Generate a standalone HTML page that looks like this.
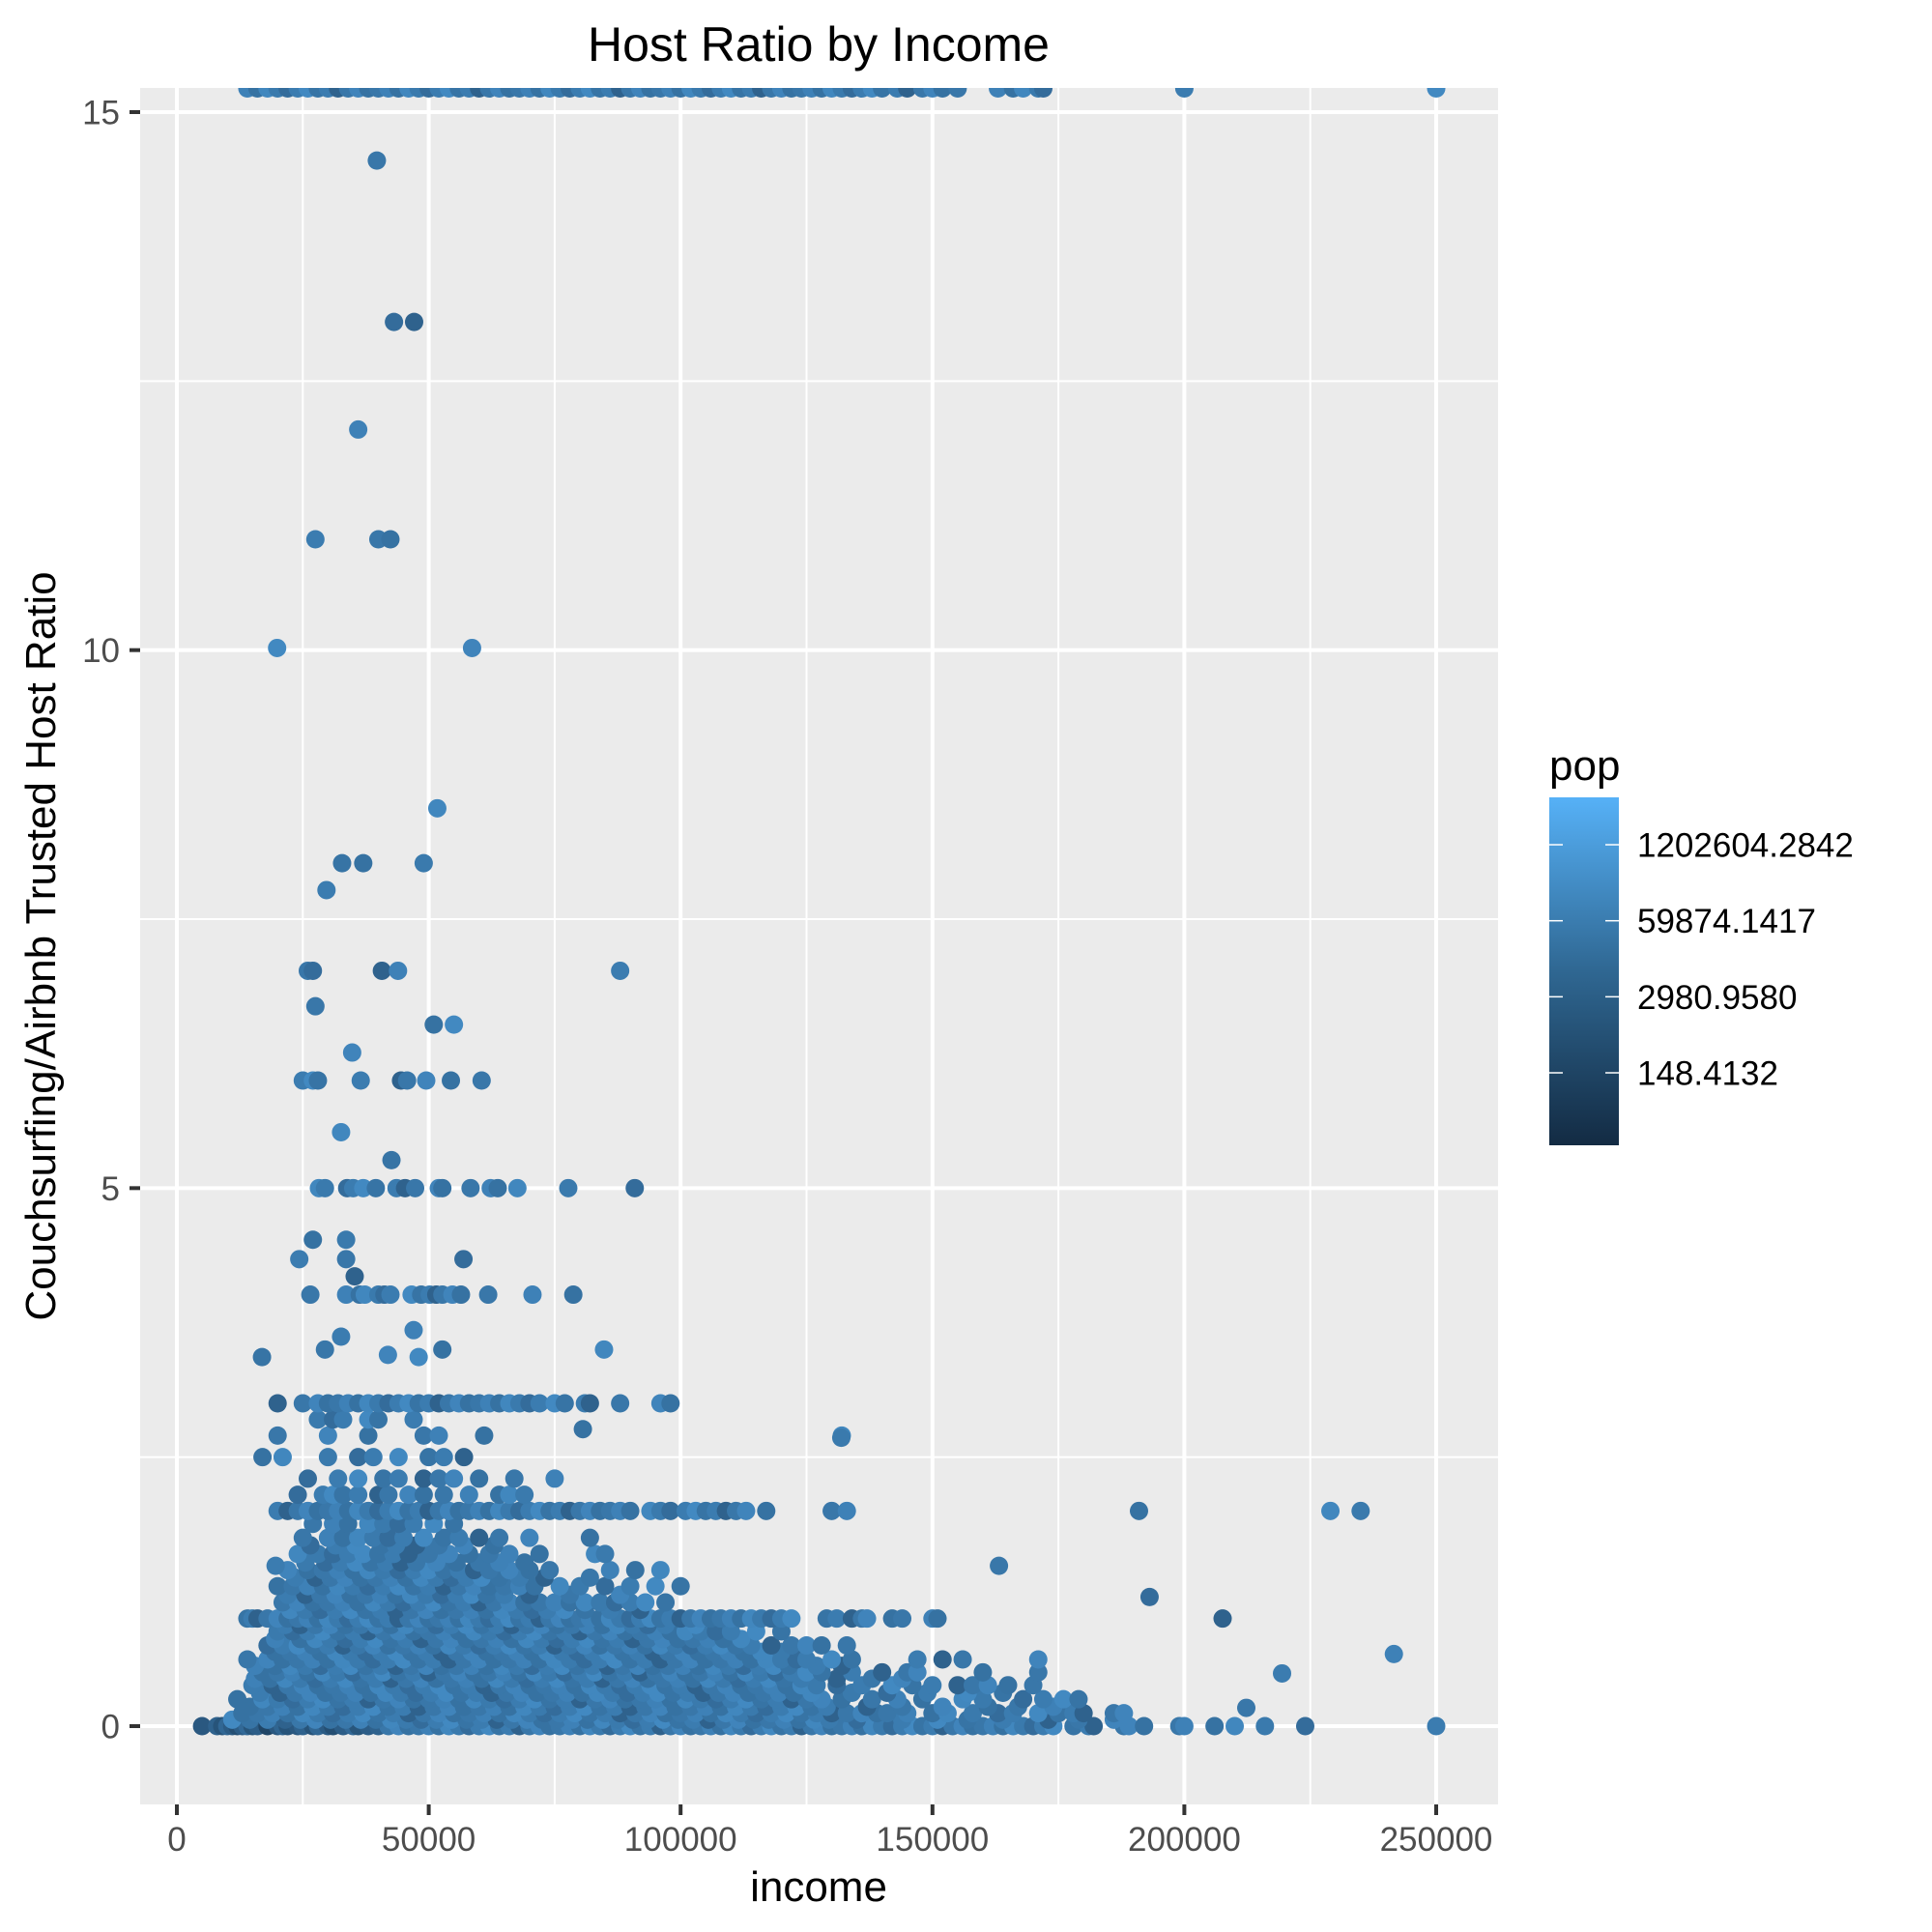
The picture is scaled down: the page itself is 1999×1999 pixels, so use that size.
<!DOCTYPE html>
<html><head><meta charset="utf-8"><style>
html,body{margin:0;padding:0;background:#fff;}
svg{display:block;font-family:"Liberation Sans",Arial,sans-serif;}
</style></head><body>
<svg id="chart" width="1999" height="1999" viewBox="0 0 1999 1999" xmlns="http://www.w3.org/2000/svg">
<defs>
<clipPath id="panelClip"><rect x="145" y="91" width="1405" height="1776"/></clipPath>
<linearGradient id="legendGrad" x1="0" y1="1" x2="0" y2="0">
<stop offset="0" stop-color="#132B43"/><stop offset="0.5" stop-color="#2F6792"/><stop offset="1" stop-color="#56B1F7"/>
</linearGradient>
</defs>
<rect x="145" y="91" width="1405" height="1776" fill="#EBEBEB"/>
<g id="grid"></g>
<g id="points" clip-path="url(#panelClip)"></g>
<g id="axes"></g>
<text x="847" y="63" font-size="50" text-anchor="middle" fill="#000">Host Ratio by Income</text>
<text x="847" y="1967" font-size="44" text-anchor="middle" fill="#000">income</text>
<text transform="translate(57,979) rotate(-90)" font-size="44" text-anchor="middle" fill="#000">Couchsurfing/Airbnb Trusted Host Ratio</text>
<g>
<text x="1603" y="807" font-size="44" fill="#000">pop</text>
<rect x="1603" y="825" width="72" height="360" fill="url(#legendGrad)"/>
<g id="legendTicks"></g>
</g>
</svg>
<script>
const xTicks = [0, 50, 100, 150, 200, 250];
const xTickLabels = ["0", "50000", "100000", "150000", "200000", "250000"];
const xMinor = [25, 75, 125, 175, 225];
const yTicks = [0, 5, 10, 15];
const yTickLabels = ["0", "5", "10", "15"];
const yMinor = [2.5, 7.5, 12.5];
const legendLogPop = [14, 11, 8, 5];
const legendLabels = ["1202604.2842", "59874.1417", "2980.9580", "148.4132"];

const rowRatios = [0, 0.06, 0.12, 0.18, 0.25, 0.31, 0.38, 0.44, 0.5, 0.56, 0.62, 0.69, 0.75, 0.81, 0.88, 0.94, 1.0, 1.08, 1.15, 1.22, 1.3, 1.38, 1.45, 1.52, 1.6, 1.68, 1.75, 1.88, 2.0, 2.15, 2.3, 2.5, 2.7, 2.85, 3.0, 4.01, 5.0, 6.0, 15.22];
const rowIncomes = [
[5,8,9,10,11,12,13,14,15,16,18,20,21,22,24,25,27,28,30,31,33,35,36,38,40,42,44,46,48,50,52,54,56,58,60,62,64,66,68,70,72,74,76,78,80,82,84,86,88,90,92,94,96,98,100,102,104,106,108,110,112,114,116,118,120,122,124,126,128,130,132,134,136,138,140,142,144,146,148,150,152,154,156,158,160,162,164,166,168,170,172,174,178,181,182,188,189,192,199,200,206,210,216,224,250],
[11,14.5,18,21.5,24.5,27.5,30.5,33.5,36.5,39.5,42.5,45.5,48.5,51.5,54.5,57.5,60.5,63.5,66.5,69.5,72.5,75.5,78.5,81.5,84.5,87.5,90.5,93.5,96.5,99.5,102.5,105.5,108.5,111.5,114.5,117.5,120.5,123.5,126.5,129.5,135,144,151,157,164,173,179,186],
[13,16,19,22,25,28,31,34,37,40,43,46,49,52,55,58,61,64,67,70,73,76,79,82,85,88,91,94,97,100,103,106,109,112,115,118,121,124,127,130,133,136,139,141,145,150,153,158,163,166,171,175,178,180,186,188],
[14.5,18,21,24,27,30,33,36,39,42,45,48,51,54,57,60,63,66,69,72,75,78,81,84,87,90,93,96,99,102,105,108,111,114,117,120,123,126,129,137,144,152,161,167,174],
[12,17,20,23,26,29,32,35,38,41,44,47,50,53,56,59,62,65,68,71,74,77,80,83,86,89,92,95,98,101,104,107,110,113,116,119,122,125,128,132,138,143,148,156,160,168,172,176,179],
[16.5,20.5,23.5,26.5,29.5,32.5,35.5,38.5,41.5,44.5,47.5,50.5,53.5,56.5,59.5,62.5,65.5,68.5,71.5,74.5,77.5,80.5,83.5,86.5,89.5,92.5,95.5,98.5,101.5,104.5,107.5,110.5,113.5,116.5,119.5,122.5,126,134,141,149,157,164],
[15,19,22,25,28,31,34,37,40,43,46,49,52,55,58,61,64,67,70,73,76,79,82,85,88,91,94,97,100,103,106,109,112,115,118,121,124,127,131,136,142,146,150,155,158,161,165,170],
[15.5,18.5,21.5,24.5,27.5,30.5,33.5,36.5,39.5,42.5,45.5,48.5,51.5,54.5,57.5,60.5,63.5,66.5,69.5,72.5,75.5,78.5,81.5,84.5,87.5,90.5,93.5,96.5,99.5,102.5,105.5,108.5,111.5,114.5,117.5,120.5,124,131,138,144],
[17,20,23,26,29,32,35,38,41,44,47,50,53,56,59,62,65,68,71,74,77,80,83,86,89,92,95,98,101,104,107,110,113,116,119,122,125,128,134,140,145,147,160,171],
[15.5,19.5,22.5,25.5,28.5,31.5,34.5,37.5,40.5,43.5,46.5,49.5,52.5,55.5,58.5,61.5,64.5,67.5,70.5,73.5,76.5,79.5,82.5,85.5,88.5,91.5,94.5,97.5,100.5,103.5,106.5,109.5,112.5,115.5,118.5,121.5,127,132],
[14,18,21,24,27,30,33,36,39,42,45,48,51,54,57,60,63,66,69,72,75,78,81,84,87,90,93,96,99,102,105,108,111,114,117,120,123,125,130,134,147,152,156,171],
[19.5,22.5,25.5,28.5,31.5,34.5,37.5,40.5,43.5,46.5,49.5,52.5,55.5,58.5,61.5,64.5,67.5,70.5,73.5,76.5,79.5,82.5,85.5,88.5,91.5,94.5,97.5,100.5,103.5,106.5,109.5,112.5,116,120],
[18,21,24,27,30,33,36,39,42,45,48,51,54,57,60,63,66,69,72,75,78,81,84,87,90,93,96,99,102,105,108,111,114,118,122,125,128,133],
[19.5,24.5,27.5,30.5,33.5,36.5,39.5,42.5,45.5,48.5,51.5,54.5,57.5,60.5,63.5,66.5,69.5,72.5,75.5,78.5,81.5,84.5,87.5,90.5,93.5,96.5,99.5,102.5,105.5,108.5,112],
[20,23,26,29,32,35,38,41,44,47,50,53,56,59,62,65,68,71,74,77,80,83,86,89,92,95,98,101,104,107,110,115,120],
[21.5,24.5,27.5,30.5,33.5,36.5,39.5,42.5,45.5,48.5,51.5,54.5,57.5,60.5,63.5,66.5,69.5,72.5,75.5,78.5,81.5,84.5,87.5,90.5,93.5,97,103],
[14,15,16,18,20,22,24,26,28,30,32,34,36,38,40,42,44,46,48,50,52,54,56,58,60,62,64,66,68,70,72,74,76,78,80,82,84,86,88,90,92,94,96,98,100,102,104,106,108,110,112,114,116,118,120,122,129,131,134,136,137,142,144,150,151],
[22.5,25.5,28.5,31.5,34.5,37.5,40.5,43.5,46.5,49.5,52.5,55.5,58.5,61.5,64.5,67.5,70.5,73.5,77,81,86,92],
[21,24,27,30,33,36,39,42,45,48,51,54,57,60,63,66,69,72,75,78,81,84,87,90,93,97],
[22,25.5,28.5,31.5,34.5,37.5,40.5,43.5,46.5,49.5,52.5,55.5,58.5,61.5,65,70,78,88],
[20,23,26,29,32,35,38,41,44,47,50,53,56,59,62,65,68,71,76,80,85,90,95,100],
[23.5,27.5,30.5,33.5,36.5,39.5,42.5,45.5,48.5,51.5,54.5,57.5,60.5,64,68,73,82],
[22,26,29,32,35,38,41,44,47,50,53,56,59,62,66,70,74,86,91,96],
[25.5,29.5,32.5,35.5,38.5,41.5,44.5,47.5,51.5,55.5,60,64,69],
[24,28,31,34,37,40,43,46,50,54,58,62,66,72,83,85],
[26.5,31.5,35.5,40.5,43.5,47.5,52,57,63],
[25,30,33,36,39,42,45,49,53,56,60,64,70,82],
[27,31,34,38,41,44,47,51,55],
[20,22,24,26,28,30,32,34,36,38,40,42,44,46,48,50,52,54,56,58,60,62,64,66,68,70,72,74,76,78,80,82,84,86,88,90,94,96,98,101,103,105,107,109,111,113,117,130,133,191,229,235],
[24,29,31,33,36,40,42,46,49,53,58,64,66,69],
[26,32,36,41,44,49,52,55,60,67,75],
[17,21,30,36,39,44,50,53,57],
[20,30,38,49,52,61,132],
[28,31,33,38,40,47],
[20,25,28,30,32,34,36,38,40,42,44,46,48,50,52,54,56,58,60,62,64,66,68,70,72,75,77,81,82,88,96,98],
[26.5,33.6,36.3,37.3,40,41.2,42.4,46.6,48.5,50.2,51.5,52.7,54.7,56.4,61.8,70.6,78.7],
[28.2,29.4,33.8,35,37,39.5,43.6,45.3,47.3,52,52.7,58.3,62.3,63.7,67.6,77.7,90.9],
[25,27,28,36.5,44.5,45.7,49.5,54.4,60.5],
[14,16,18,20,22,24,26,28,30,32,34,36,38,40,42,44,46,48,50,52,54,56,58,60,62,64,66,68,70,72,74,76,78,80,82,84,86,88,90,92,94,96,98,100,102,104,106,108,110,112,114,116,118,120,122,124,126,128,130,132,134,136,138,140,143,145,148,150,152,155,163,166,168,171,172,200,250]
];
const scatterIncome = [39.7,43.1,47.1,36,27.5,40,42.4,19.9,58.6,51.7,32.8,37,49,29.7,26,27,40.7,43.9,88,27.5,51,55,34.8,32.6,42.6,27,33.6,24.3,33.6,56.9,35.3,47,32.6,29.4,52.7,48,41.9,84.8,16.9,80.6,131.9,19.6,163.2,193.1,207.6,241.6,219.4,212.3];
const scatterRatio = [14.55,13.05,13.05,12.05,11.03,11.03,11.03,10.02,10.02,8.53,8.02,8.02,8.02,7.77,7.02,7.02,7.02,7.02,7.02,6.69,6.52,6.52,6.26,5.52,5.26,4.52,4.52,4.34,4.34,4.34,4.18,3.68,3.62,3.5,3.5,3.43,3.45,3.5,3.43,2.76,2.68,1.49,1.49,1.2,1.0,0.67,0.49,0.17];
const logPopCycle = [10.5,11.5,10,12,10.8,9.5,11,12.2,10.2,11,8.5,10.5,11.8,10];

const NS = "http://www.w3.org/2000/svg";
const X0 = 183, X1 = 1486, Y0 = 1786, Y15 = 116;
function xs(v){ return X0 + (v / 250) * (X1 - X0); }
function ys(v){ return Y0 + (v / 15) * (Y15 - Y0); }
const LP_MIN = 2.14, LP_MAX = 15.87;
function colorOf(lp){
  let t = (lp - LP_MIN) / (LP_MAX - LP_MIN); t = Math.max(0, Math.min(1, t));
  t = Math.pow(t, 1.15);
  const a = [19,43,67], b = [86,177,247];
  return "rgb(" + a.map((c,i)=>Math.round(c + (b[i]-c)*t)).join(",") + ")";
}
function mk(tag, attrs, parent){
  const e = document.createElementNS(NS, tag);
  for (const k in attrs) e.setAttribute(k, attrs[k]);
  parent.appendChild(e); return e;
}
const grid = document.getElementById("grid");
const axes = document.getElementById("axes");
const pts = document.getElementById("points");

xMinor.forEach(v => {
  const l = mk("line", {x1: xs(v), x2: xs(v), y1: 91, y2: 1867, stroke: "#fff", "stroke-width": 2}, grid);
  
  
});
yMinor.forEach(v => {
  const l = mk("line", {x1: 145, x2: 1550, y1: ys(v), y2: ys(v), stroke: "#fff", "stroke-width": 2}, grid);
  
  
});
xTicks.forEach((v, i) => {
  const l = mk("line", {x1: xs(v), x2: xs(v), y1: 91, y2: 1867, stroke: "#fff", "stroke-width": 4}, grid);
  
  
  const t = mk("line", {x1: xs(v), x2: xs(v), y1: 1867, y2: 1878, stroke: "#333", "stroke-width": 4}, axes);
  
  
  const tx = mk("text", {x: xs(v), y: 1915, "font-size": 35, "text-anchor": "middle", fill: "#4D4D4D"}, axes);
  tx.textContent = xTickLabels[i];
  
  
});
yTicks.forEach((v, i) => {
  const l = mk("line", {x1: 145, x2: 1550, y1: ys(v), y2: ys(v), stroke: "#fff", "stroke-width": 4}, grid);
  
  
  const t = mk("line", {x1: 134, x2: 145, y1: ys(v), y2: ys(v), stroke: "#333", "stroke-width": 4}, axes);
  
  
  const tx = mk("text", {x: 124, y: ys(v) + 12.5, "font-size": 35, "text-anchor": "end", fill: "#4D4D4D"}, axes);
  tx.textContent = yTickLabels[i];
  
  
});

let idx = 0;
rowRatios.forEach((r, ri) => {
  rowIncomes[ri].forEach(x => {
    let lp = logPopCycle[idx % logPopCycle.length]; idx++;
    if (r === 0 && x < 40) lp -= 3;
    const c = mk("circle", {cx: xs(x), cy: ys(r), r: 9.5, fill: colorOf(lp)}, pts);
    
    
  });
});
scatterIncome.forEach((x, i) => {
  const lp = logPopCycle[(i * 5) % logPopCycle.length];
  const c = mk("circle", {cx: xs(x), cy: ys(scatterRatio[i]), r: 9.5, fill: colorOf(lp)}, pts);
  
  
});

const lt = document.getElementById("legendTicks");
function ly(lp){ return 1185 - (lp - LP_MIN) / (LP_MAX - LP_MIN) * 360; }
legendLogPop.forEach((lp, i) => {
  const y = ly(lp);
  const a = mk("line", {x1: 1603, x2: 1617, y1: y, y2: y, stroke: "#fff", "stroke-width": 1.5}, lt);
  
  
  const b = mk("line", {x1: 1661, x2: 1675, y1: y, y2: y, stroke: "#fff", "stroke-width": 1.5}, lt);
  
  
  const t = mk("text", {x: 1694, y: y + 12.5, "font-size": 35, fill: "#000"}, lt);
  t.textContent = legendLabels[i];
  
  
});
</script>
</body></html>
